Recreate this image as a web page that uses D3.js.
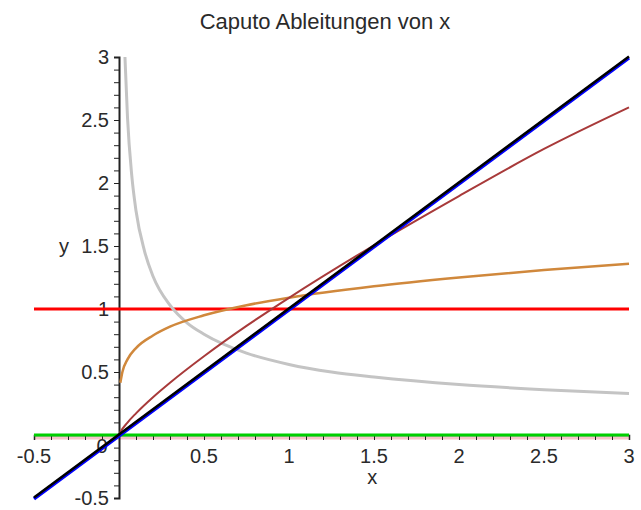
<!DOCTYPE html>
<meta charset="utf-8" />
<style>
  body { margin: 0; background: #fff; }
  svg text { font-family: "Liberation Sans", Arial, sans-serif; fill: #2a2a2a; }
  .tick-lbl { font-size: 20px; }
  .title { font-size: 22px; }
</style>
<svg width="641" height="510"></svg>
<script src="https://cdn.jsdelivr.net/npm/d3@7"></script>
<script>
  // values
  var xLine = [-0.5, 3];
  var yRed = [1, 1];
  var yGreen = [0, 0];
  var yBlue = [-0.5, 3];

  var xGray = [0.035, 0.05, 0.075, 0.1, 0.15, 0.2, 0.3, 0.4, 0.5, 0.75, 1, 1.25, 1.5, 2, 2.5, 3];
  var yGray = [3.0, 2.52, 2.06, 1.78, 1.46, 1.26, 1.03, 0.89, 0.8, 0.65, 0.56, 0.5, 0.46, 0.4, 0.36, 0.33];

  var xOrange = [0.008, 0.02, 0.05, 0.1, 0.2, 0.3, 0.5, 0.75, 1, 1.5, 2, 2.5, 3];
  var yOrange = [0.415, 0.5, 0.6, 0.69, 0.79, 0.86, 0.95, 1.03, 1.09, 1.18, 1.25, 1.31, 1.36];

  var xBrown = [0, 0.01, 0.05, 0.1, 0.2, 0.3, 0.5, 0.75, 1, 1.5, 2, 2.5, 3];
  var yBrown = [0, 0.027, 0.099, 0.172, 0.3, 0.415, 0.625, 0.866, 1.089, 1.506, 1.896, 2.27, 2.6];

  var xTicks = [-0.5, 0.5, 1, 1.5, 2, 2.5, 3];
  var yTicks = [-0.5, 0.5, 1, 1.5, 2, 2.5, 3];

  var svg = d3.select("svg");

  var x = d3.scaleLinear().domain([-0.5, 3]).range([34, 629]);
  var y = d3.scaleLinear().domain([-0.5, 3]).range([498, 57]);

  function zip(xs, ys) {
    return xs.map(function(v, i) { return [v, ys[i]]; });
  }

  var line = d3.line()
    .x(function(d) { return x(d[0]); })
    .y(function(d) { return y(d[1]); });
  var smooth = d3.line()
    .curve(d3.curveMonotoneX)
    .x(function(d) { return x(d[0]); })
    .y(function(d) { return y(d[1]); });

  // title
  svg.append("text").attr("class", "title")
    .attr("x", 325).attr("y", 29)
    .attr("text-anchor", "middle")
    .text("Caputo Ableitungen von x");

  // pink strip under zero line
  svg.append("path")
    .attr("d", line(zip(xLine, yGreen)))
    .attr("transform", "translate(0,3)")
    .attr("stroke", "#f6c4c8").attr("stroke-width", 3).attr("fill", "none");

  // axes
  var xAxis = d3.axisBottom(x)
    .tickValues(d3.range(-5, 31).map(function(i) { return i / 10; }))
    .tickSize(5).tickFormat("");
  svg.append("g")
    .attr("transform", "translate(0," + y(0) + ")")
    .call(xAxis)
    .call(function(g) {
      g.select(".domain").attr("stroke", "#222").attr("stroke-width", 1.5);
      g.selectAll(".tick line").attr("stroke", "#222");
    });

  var yAxis = d3.axisLeft(y)
    .tickValues(d3.range(-5, 31).map(function(i) { return i / 10; }))
    .tickSize(5).tickFormat("");
  svg.append("g")
    .attr("transform", "translate(" + x(0) + ",0)")
    .call(yAxis)
    .call(function(g) {
      g.select(".domain").attr("stroke", "#222").attr("stroke-width", 2);
      g.selectAll(".tick line").attr("stroke", "#222");
    });

  // tick labels
  svg.selectAll(".xl").data(xTicks).enter().append("text")
    .attr("class", "tick-lbl")
    .attr("x", function(d) { return x(d); })
    .attr("y", y(0) + 28)
    .attr("text-anchor", "middle")
    .text(function(d) { return d; });

  svg.selectAll(".yl").data(yTicks).enter().append("text")
    .attr("class", "tick-lbl")
    .attr("x", x(0) - 10)
    .attr("y", function(d) { return y(d) + 7; })
    .attr("text-anchor", "end")
    .text(function(d) { return d; });

  svg.append("text").attr("class", "tick-lbl")
    .attr("x", x(0) - 17).attr("y", y(0) + 18)
    .attr("text-anchor", "middle").text("0");

  svg.append("text").attr("class", "tick-lbl")
    .attr("x", x(1.49)).attr("y", y(0) + 49)
    .attr("text-anchor", "middle").text("x");
  svg.append("text").attr("class", "tick-lbl")
    .attr("x", 64).attr("y", y(1.5) + 7)
    .attr("text-anchor", "middle").text("y");

  // curves
  function draw(d, color, w, gen, dy) {
    svg.append("path")
      .attr("d", (gen || line)(d))
      .attr("transform", dy ? "translate(0," + dy + ")" : null)
      .attr("fill", "none")
      .attr("stroke", color)
      .attr("stroke-width", w)
      .attr("stroke-linejoin", "round");
  }

  draw(zip(xLine, yGreen), "#00d000", 3);
  draw(zip(xLine, yRed), "#ff0000", 3);
  draw(zip(xGray, yGray), "#c4c4c4", 3, smooth);
  draw(zip(xOrange, yOrange), "#d0883c", 2.5, smooth);
  draw(zip(xBrown, yBrown), "#a83a3a", 2, smooth);
  draw(zip(xLine, yBlue), "#0000ff", 3.5, line, 0.8);
  draw(zip(xLine, yBlue), "#000000", 2.5, line, -0.6);
</script>
